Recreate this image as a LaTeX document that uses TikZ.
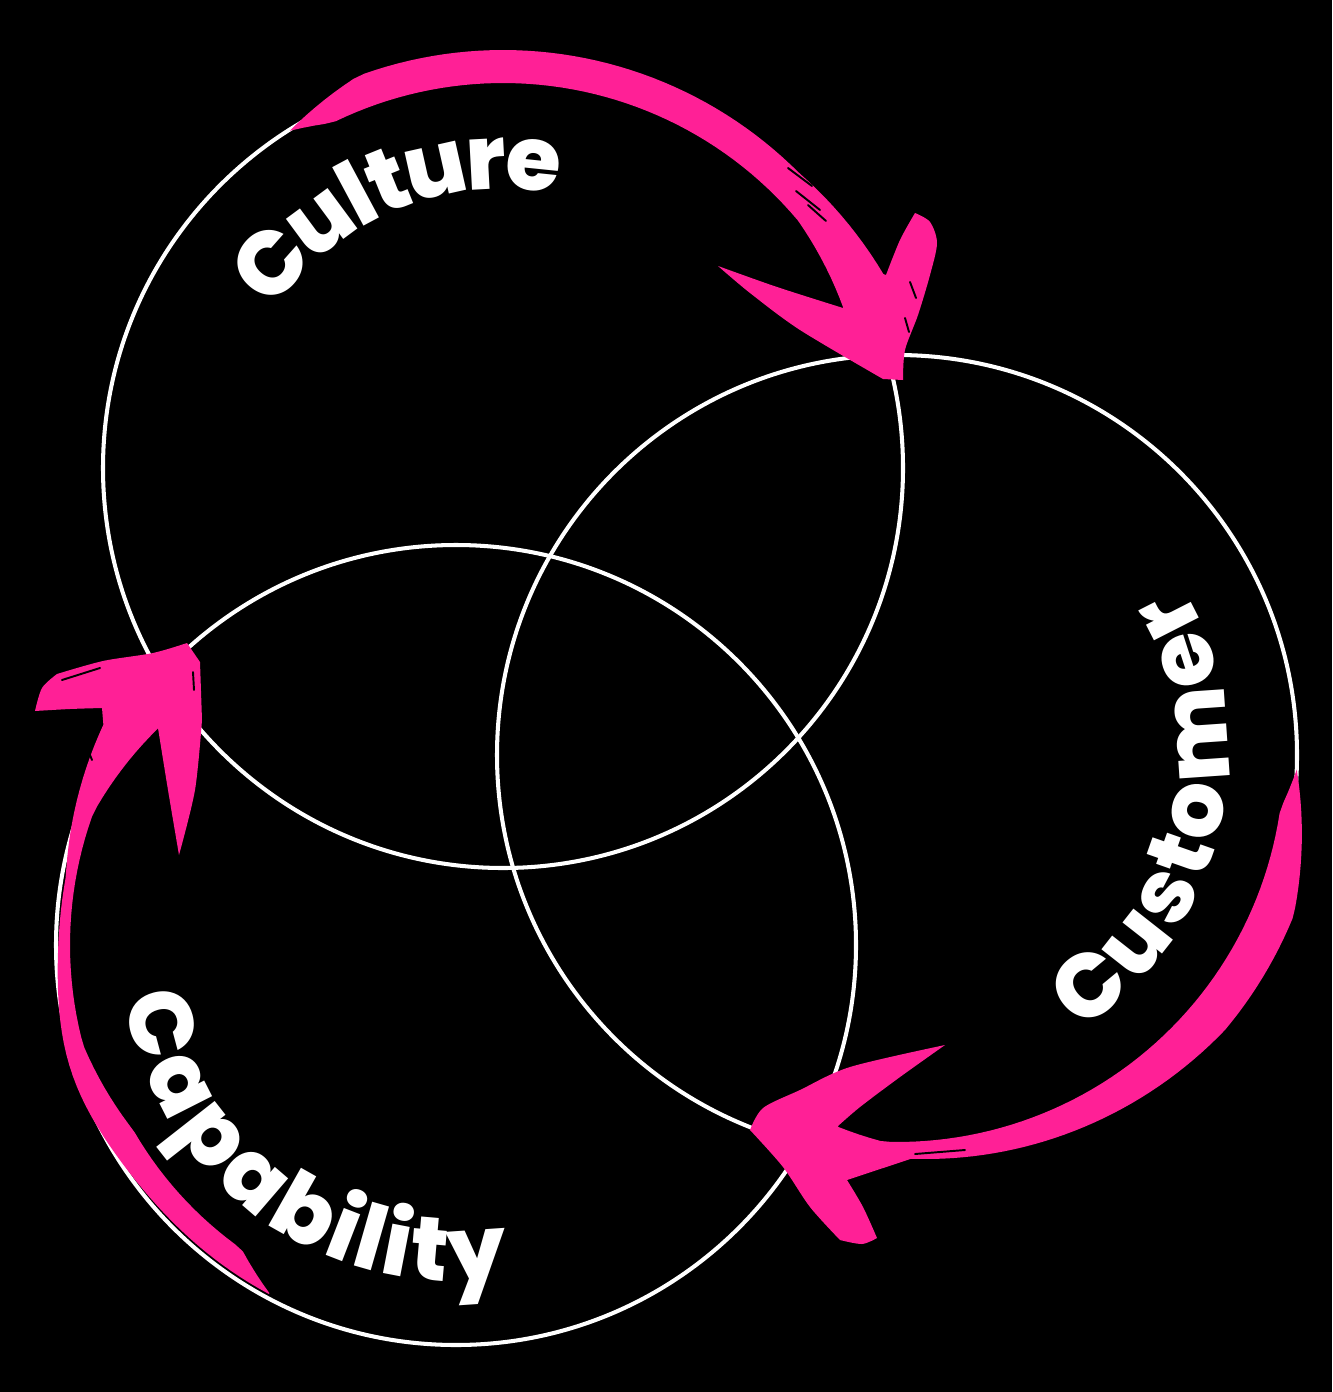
\documentclass[tikz,border=0pt]{standalone}
\usepackage{fontspec}
\IfFontExistsTF{Poppins ExtraBold}
  {\newfontfamily\labelfont{Poppins ExtraBold}}
  {\newfontfamily\labelfont{Poppins}[UprightFont=* Bold]}
\usetikzlibrary{decorations.text}
\definecolor{brushpink}{RGB}{255,32,150}

\begin{document}
\begin{tikzpicture}[x=0.02cm,y=-0.02cm,
  ring/.style={draw=white,line width=2.3pt},
  brush/.style={fill=brushpink},
  streak/.style={draw=black,line width=1.1pt,line cap=round},
  curvedlabel/.style={decorate,decoration={text along path,text align=center,
    text color=white,raise=-15pt,
    text={|\labelfont\fontsize{51}{60}\selectfont|#1}}},
  declare function={
    cultout(\t)=399+19*min(1,(\t+122.3)/12)+0.5*max(0,\t+45);
    cultin(\t)=399-14*min(1,(\t+122.3)/6)-0.6*max(0,\t+40);
    custout(\t)=400+28*min(1,max(0,\t-2.1)/20)-0.5*max(0,\t-40);
    custin(\t)=400-13*min(1,max(0,\t-2.1)/6)-1.5*max(0,\t-92);
    capout(\t)=396+9*exp(-((\t-162)/14)^2)+0.9*max(0,\t-190);
    capin(\t)=395-23*min(1,max(0,\t-118.2)/7)+14*min(1,max(0,\t-150)/15)-1.1*max(0,\t-200);}]
  \fill[black] (0,0) rectangle (1332,1392);
  \useasboundingbox (0,0) rectangle (1332,1392);
  % circle centres
  \coordinate (culture) at (503,468);
  \coordinate (customer) at (897,755);
  \coordinate (capability) at (456,945);
  \draw[ring] (culture) circle[radius=400];
  \draw[ring] (customer) circle[radius=400];
  \draw[ring] (capability) circle[radius=400];
  % culture -> customer
  \fill[brush] plot[domain=-122.3:-27,samples=60] ({503+cultout(\x)*cos(\x)},{468+cultout(\x)*sin(\x)})
    -- plot[smooth] coordinates {(886,275) (900,240) (915,213)}
    -- plot[smooth] coordinates {(915,213) (930,222) (937,243) (930,275) (918,315) (905,350) (903,380)}
    -- (883,379)
    -- plot[smooth] coordinates {(883,379) (800,330) (750,293) (718,266)}
    -- plot[smooth] coordinates {(718,266) (777,287) (843,308)}
    -- plot[domain=-25.2:-122.3,samples=60] ({503+cultin(\x)*cos(\x)},{468+cultin(\x)*sin(\x)})
    -- cycle;
  \draw[streak] (788,168) -- (812,186);
  \draw[streak] (796,191) -- (820,210);
  \draw[streak] (808,205) -- (826,221);
  \draw[streak] (910,282) -- (916,298);
  \draw[streak] (905,318) -- (909,332);
  \draw[streak] (398,118) -- (420,111);
  % customer -> capability
  \fill[brush] plot[domain=2.1:88,samples=60] ({897+custout(\x)*cos(\x)},{755+custout(\x)*sin(\x)})
    -- (847,1180)
    -- plot[smooth] coordinates {(847,1180) (863,1207) (877,1238)}
    -- plot[smooth] coordinates {(877,1238) (862,1244) (840,1240)}
    -- plot[smooth] coordinates {(840,1240) (810,1207) (783,1167) (750,1130)}
    -- plot[smooth] coordinates {(750,1130) (763,1108) (800,1090) (850,1067) (945,1045)}
    -- plot[smooth] coordinates {(945,1045) (900,1077) (860,1107) (838,1126)}
    -- plot[domain=99:2.1,samples=60] ({897+custin(\x)*cos(\x)},{755+custin(\x)*sin(\x)})
    -- cycle;
  \draw[streak] (915,1154) -- (965,1150);
  \draw[streak] (882,1171) -- (902,1174);
  \draw[streak] (785,1185) -- (800,1200);
  % capability -> culture
  \fill[brush] plot[domain=118.2:212,samples=60] ({456+capout(\x)*cos(\x)},{945+capout(\x)*sin(\x)})
    -- (102,708)
    -- plot[smooth] coordinates {(102,708) (70,709) (35,711)}
    -- plot[smooth] coordinates {(35,711) (42,688) (57,674)}
    -- plot[smooth] coordinates {(57,674) (103,661) (153,653) (187,643)}
    -- (200,662) -- (202,720)
    -- plot[smooth] coordinates {(202,720) (195,790) (179,855)}
    -- plot[smooth] coordinates {(179,855) (168,790) (158,728)}
    -- plot[domain=216:118.2,samples=60] ({456+capin(\x)*cos(\x)},{945+capin(\x)*sin(\x)})
    -- cycle;
  \draw[streak] (62,680) -- (100,668);
  \draw[streak] (86,745) -- (92,760);
  \draw[streak] (193,672) -- (194,690);
  % labels
  \path[curvedlabel=Culture] (culture) ++(-172:305) arc[start angle=-172,end angle=-52,radius=305];
  \path[curvedlabel=Customer] (customer) ++(73:305) arc[start angle=73,end angle=-47,radius=305];
  \path[curvedlabel=Capability] (capability) ++(186:310) arc[start angle=186,end angle=66,radius=310];
\end{tikzpicture}
\end{document}
